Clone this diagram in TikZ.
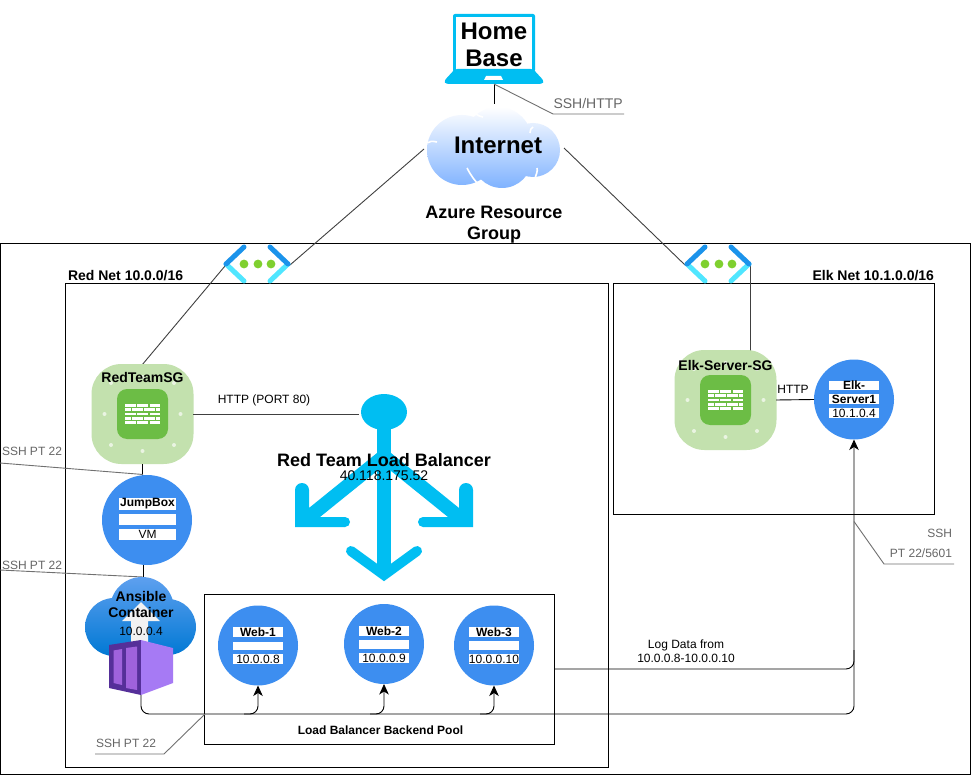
\documentclass[tikz,border=0pt]{standalone}
\usepackage{fontspec}
\setmainfont{Liberation Sans}
\usetikzlibrary{arrows.meta,shapes.geometric}
\definecolor{azblue}{HTML}{00BEF2}
\definecolor{webblue}{HTML}{3D8EF0}
\definecolor{sglight}{HTML}{C3E1AE}
\definecolor{sgdark}{HTML}{6CBD45}
\definecolor{graytxt}{HTML}{666666}
\definecolor{graytwo}{HTML}{707070}
\definecolor{lightv}{HTML}{50E6FF}
\definecolor{darkv}{HTML}{1B93EB}
\definecolor{vdot}{HTML}{7FD02F}
\definecolor{cubeR}{HTML}{A67AF4}
\definecolor{cubeL}{HTML}{552F99}
\definecolor{cubeP}{HTML}{9F62DC}
\definecolor{cloudlow}{HTML}{7FB2FF}
\definecolor{ansitop}{HTML}{5EA0EF}
\definecolor{ansilow}{HTML}{0078D4}
\newcommand{\fsz}[2]{\fontsize{#1}{#2}\selectfont}
\tikzset{
  x=1pt,y=-1pt,
  frame/.style={draw=black,line width=1pt,fill=none,inner sep=0pt,outer sep=0pt,anchor=north west},
  wire/.style={draw=black,line width=0.9pt},
  greywire/.style={draw=graytwo,line width=0.9pt},
  diag/.style={draw=black!75,line width=0.9pt},
  plainbus/.style={draw=black,line width=0.9pt,rounded corners=8pt},
  arrowwire/.style={plainbus,-{Stealth[length=10.5pt,width=9.5pt,inset=3pt]}},
  txt/.style={inner sep=0pt,outer sep=0pt,text=black,font=\fsz{12}{14}},
  greytxt/.style={inner sep=0pt,outer sep=0pt,text=graytxt,font=\fsz{12}{14}},
  boldtxt/.style={inner sep=0pt,outer sep=0pt,text=black,font=\fsz{12}{14}\bfseries},
  hostdisc/.style={circle,fill=webblue,minimum size=80pt,inner sep=0pt,outer sep=0pt},
  band/.style={fill=white,minimum width=50pt,minimum height=10pt,inner sep=0pt,outer sep=0pt},
  bandb/.style={band,label={[boldtxt]center:#1}},
  bandt/.style={band,label={[txt]center:#1}},
  sgicon/.pic={
    \fill[sglight,rounded corners=30pt] (-51,-50) rectangle (51,50);
    \foreach \dx/\dy in {-31.5/-31,31.5/-31,-38/0,38/0,-31.5/31,0/37,31.5/31,0/-37}
      \fill[white,opacity=.65] (\dx,\dy) circle[radius=2pt];
    \fill[sgdark,rounded corners=10pt] (-25.5,-25) rectangle (25.5,25);
    \foreach \dy in {-8.4,0,8.4}
      \foreach \a/\b in {-17.5/-7,-5.5/5.5,7/17.5}
        \fill[white] (\a,\dy-1.4) rectangle (\b,\dy+1.4);
    \foreach \dy in {-4.2,4.2}
      \foreach \a/\b in {-17.5/-12,-10.5/0,1.5/12,13.5/17.5}
        \fill[white] (\a,\dy-1.4) rectangle (\b,\dy+1.4);
  },
  vneticon/.pic={
    \draw[draw=lightv,line width=5pt,line cap=round] (-31,0) -- (-13,17);
    \draw[draw=lightv,line width=5pt,line cap=round] (31,0) -- (13,17);
    \draw[draw=darkv,line width=5pt,line cap=round] (-31,0) -- (-13,-17);
    \draw[draw=darkv,line width=5pt,line cap=round] (31,0) -- (13,-17);
    \foreach \dx in {-13,1,14}
      \fill[vdot] (\dx,0) circle[radius=4.4pt];
  },
}
\begin{document}
\begin{tikzpicture}
\useasboundingbox (0,0) rectangle (971,775);
\fill[white] (0,0) rectangle (971,775);

% frames
\node[frame,minimum width=970pt,minimum height=530pt] (azure) at (0.5,244) {};
\node[frame,minimum width=543pt,minimum height=483pt] (rednet) at (65,284) {};
\node[frame,minimum width=321pt,minimum height=230pt] (elknet) at (613,284) {};
\node[frame,minimum width=350pt,minimum height=150pt] (pool) at (204.5,594) {};

% free ends of connectors
\coordinate (lapb) at (494,84);
\coordinate (inett) at (494,104);
\coordinate (inetl) at (424,149);
\coordinate (inetr) at (564,148);
\coordinate (vlr) at (290,265);
\coordinate (vll) at (225,266);
\coordinate (vrl) at (685,265);
\coordinate (vrr) at (750,265);
\coordinate (sgrt) at (142,365);
\coordinate (sgrb) at (142,464);
\coordinate (sgrr) at (193,414);
\coordinate (sget) at (750,354);
\coordinate (sger) at (776,400);
\coordinate (lbl) at (359,414);
\coordinate (contb) at (141,695);
\coordinate (busa) at (141,714);
\coordinate (busb) at (854,714);
\coordinate (poole) at (554.5,669);
\coordinate (logc) at (854,669);
\coordinate (loge) at (854,650);
\coordinate (ansit) at (143,577);
\coordinate (call1a) at (553,114);
\coordinate (call1b) at (624,114);
\coordinate (call2a) at (0,463);
\coordinate (call3a) at (0,570);
\coordinate (call4a) at (884,564);
\coordinate (call4b) at (954,564);
\coordinate (call4o) at (854,521.5);
\coordinate (call5o) at (205,714);
\coordinate (call5a) at (164,754);
\coordinate (call5b) at (95,754);
\coordinate (b1) at (244,714);
\coordinate (b2) at (370,714);
\coordinate (b3) at (480,714);
\coordinate (c1) at (258,714);
\coordinate (c2) at (384,714);
\coordinate (c3) at (494,714);

% laptop
\fill[azblue,rounded corners=2pt] (453,14) rectangle (535,72);
\fill[white] (456,17.5) rectangle (532,70);
\fill[azblue,rounded corners=2.5pt] (455,69) -- (533,69) -- (544,81) -- (542,84) -- (446,84) -- (444,81) -- cycle;
\fill[white] (486,76) -- (501,76) -- (503,80) -- (484,80) -- cycle;
\node[font=\fsz{24}{27}\bfseries,align=center,inner sep=0pt] (homebase) at (494,44.5) {Home\\Base};

% internet cloud
\shade[top color=white,bottom color=cloudlow]
  (498,141) circle[radius=34pt]
  (462,150) circle[radius=35pt]
  (533,150) circle[radius=27pt]
  (502,158) circle[radius=30pt];
\draw[white,line width=1.6pt] (427,143) .. controls (430,141) and (432,141) .. (437,142);
\draw[white,line width=1.6pt] (476,114) .. controls (478,116) and (480,116) .. (483,117);
\draw[white,line width=1.6pt] (533,127) .. controls (531,128) and (530,130) .. (530,133);
\draw[white,line width=1.6pt] (467,168) .. controls (470,174) and (474,180) .. (480,186);
\draw[white,line width=1.6pt] (537,168) .. controls (538,171) and (536,175) .. (535,178);
\node[font=\fsz{24}{27}\bfseries,inner sep=0pt] (internet) at (498,145) {Internet};
\node[font=\fsz{18}{21}\bfseries,align=center,inner sep=0pt] (rg) at (494,225) {Azure Resource\\Group};

% connectors (upper)
\draw[wire] (lapb) -- (inett);
\draw[greywire] (lapb) -- (call1a) -- (call1b);
\node[greytxt,anchor=west,font=\fsz{14}{16}] (sshhttp) at (553.5,103) {SSH/HTTP};
\draw[diag] (inetl) -- (vlr);
\draw[diag] (vll) -- (sgrt);
\draw[diag] (inetr) -- (vrl);
\draw[diag] (vrr) -- (sget);

% vnet icons
\pic at (257,264) {vneticon};
\pic at (718,264) {vneticon};

% security groups
\pic at (142.5,414) {sgicon};
\pic at (725.5,400) {sgicon};
\node[boldtxt,font=\fsz{14}{16}\bfseries] (redsg) at (142.5,377) {RedTeamSG};
\node[boldtxt,font=\fsz{14}{16}\bfseries] (elksg) at (725.5,365) {Elk-Server-SG};

% labels of nets
\node[boldtxt,anchor=west,font=\fsz{14}{16}\bfseries] (redlab) at (68,275.5) {Red Net 10.0.0/16};
\node[boldtxt,anchor=east,font=\fsz{14}{16}\bfseries] (elklab) at (934,275.5) {Elk Net 10.1.0.0/16};
\node[boldtxt] (poollab) at (380.5,730) {Load Balancer Backend Pool};

% Jump box
\draw[wire] (sgrb) -- (142,476);
\node[hostdisc,minimum size=90pt] (jump) at (147,520) {};
\node[bandb={JumpBox},minimum width=57pt,minimum height=12pt] (j1) at (147.5,504) {};
\node[band,minimum width=57pt,minimum height=11pt] (j2) at (147.5,519.5) {};
\node[bandt={VM},minimum width=57pt,minimum height=11pt] (j3) at (147.5,534.5) {};
\draw[wire] (143,565) -- (ansit);
\draw[greywire] (call2a) -- (143,474.5);
\draw[greywire] (call3a) -- (ansit);
\node[greytxt,anchor=west] (ssh1) at (2,451) {SSH PT 22};
\node[greytxt,anchor=west] (ssh2) at (2,565) {SSH PT 22};

% Ansible container
\shade[top color=ansitop,bottom color=ansilow]
  (142,609) circle[radius=32pt]
  (114,627) circle[radius=29pt]
  (168,627) circle[radius=28pt]
  (114,627) rectangle (168,656);
\fill[black!5] (141,602) -- (160,621) -- (148,621) -- (148,648) -- (131,648) -- (131,621) -- (122,621) -- cycle;
\fill[cubeL] (109,645) -- (141,640) -- (141,695) -- (109,688) -- cycle;
\fill[cubeR] (141,640) -- (173,648) -- (173,683) -- (141,695) -- cycle;
\fill[cubeP] (113.5,650.5) -- (122,649) -- (122,685) -- (113.5,683) -- cycle;
\fill[cubeP] (126,648) -- (137,646.5) -- (137,690) -- (126,688) -- cycle;
\node[font=\fsz{14}{16}\bfseries,align=center,inner sep=0pt] (ansible) at (141,604) {Ansible\\Container};
\node[txt] (ansip) at (141,631) {10.0.0.4};

% load balancer
\fill[azblue] (384,412) ellipse[x radius=23pt,y radius=18pt];
\fill[azblue] (377,420) rectangle (391,576);
\draw[azblue,line width=10pt,line cap=round,line join=miter,miter limit=10] (351,551) -- (384,575) -- (417,551);
\fill[azblue] (295,490) -- (309,490) -- (309,508) -- (377,453) -- (377,471) -- (320,517) -- (345,517) -- (345,527) -- (295,527) -- cycle;
\fill[azblue] (302,490) circle[radius=7pt] (345,522) circle[radius=5pt];
\fill[azblue] (473,490) -- (459,490) -- (459,508) -- (391,453) -- (391,471) -- (448,517) -- (423,517) -- (423,527) -- (473,527) -- cycle;
\fill[azblue] (466,490) circle[radius=7pt] (423,522) circle[radius=5pt];
\node[font=\fsz{18}{20}\bfseries,inner sep=0pt] (lbname) at (384,460) {Red Team Load Balancer};
\node[font=\fsz{14}{16},inner sep=0pt] (lbip) at (384,475.5) {40.118.175.52};
\draw[diag] (sgrr) -- (lbl);
\node[txt] (http80) at (264,400) {HTTP (PORT 80)};

% web hosts
\node[hostdisc] (web1) at (258,645.5) {};
\node[bandb={Web-1}] (w11) at (258,632) {};
\node[band,minimum height=8.5pt] (w12) at (258,646) {};
\node[bandt={10.0.0.8}] (w13) at (258,659) {};
\node[hostdisc] (web2) at (384,644) {};
\node[bandb={Web-2}] (w21) at (384,631) {};
\node[band,minimum height=9pt] (w22) at (384,644.5) {};
\node[bandt={10.0.0.9}] (w23) at (384,658) {};
\node[hostdisc] (web3) at (494,645.5) {};
\node[bandb={Web-3}] (w31) at (494,632) {};
\node[band,minimum height=9pt] (w32) at (494,645.5) {};
\node[bandt={10.0.0.10}] (w33) at (494,659) {};

% elk server
\node[hostdisc] (elk) at (854,399.5) {};
\node[bandb={Elk-},minimum height=9pt] (e1) at (854,385.5) {};
\node[bandb={Server1}] (e2) at (854,399) {};
\node[bandt={10.1.0.4}] (e3) at (854,413) {};
\draw[wire] (sger) -- (elk.west);
\node[txt,font=\fsz{12}{14}] (httpl) at (793,389) {HTTP};

% bottom wiring
\draw[arrowwire] (contb) -- (busa) -- (busb) -- (elk.south);
\draw[arrowwire] (b1) -- (c1) -- (web1.south);
\draw[arrowwire] (b2) -- (c2) -- (web2.south);
\draw[arrowwire] (b3) -- (c3) -- (web3.south);
\draw[plainbus] (poole) -- (logc) -- (loge);
\node[txt,align=center] (logdata) at (686,651) {Log Data from\\10.0.0.8-10.0.0.10};

% callouts
\draw[greywire] (call4o) -- (call4a) -- (call4b);
\node[greytxt,anchor=east] (sshr) at (952,533) {SSH};
\node[greytxt,anchor=east] (ptr) at (952,553) {PT 22/5601};
\draw[greywire] (call5o) -- (call5a) -- (call5b);
\node[greytxt,anchor=west] (ssh3) at (96,743) {SSH PT 22};
\end{tikzpicture}
\end{document}
